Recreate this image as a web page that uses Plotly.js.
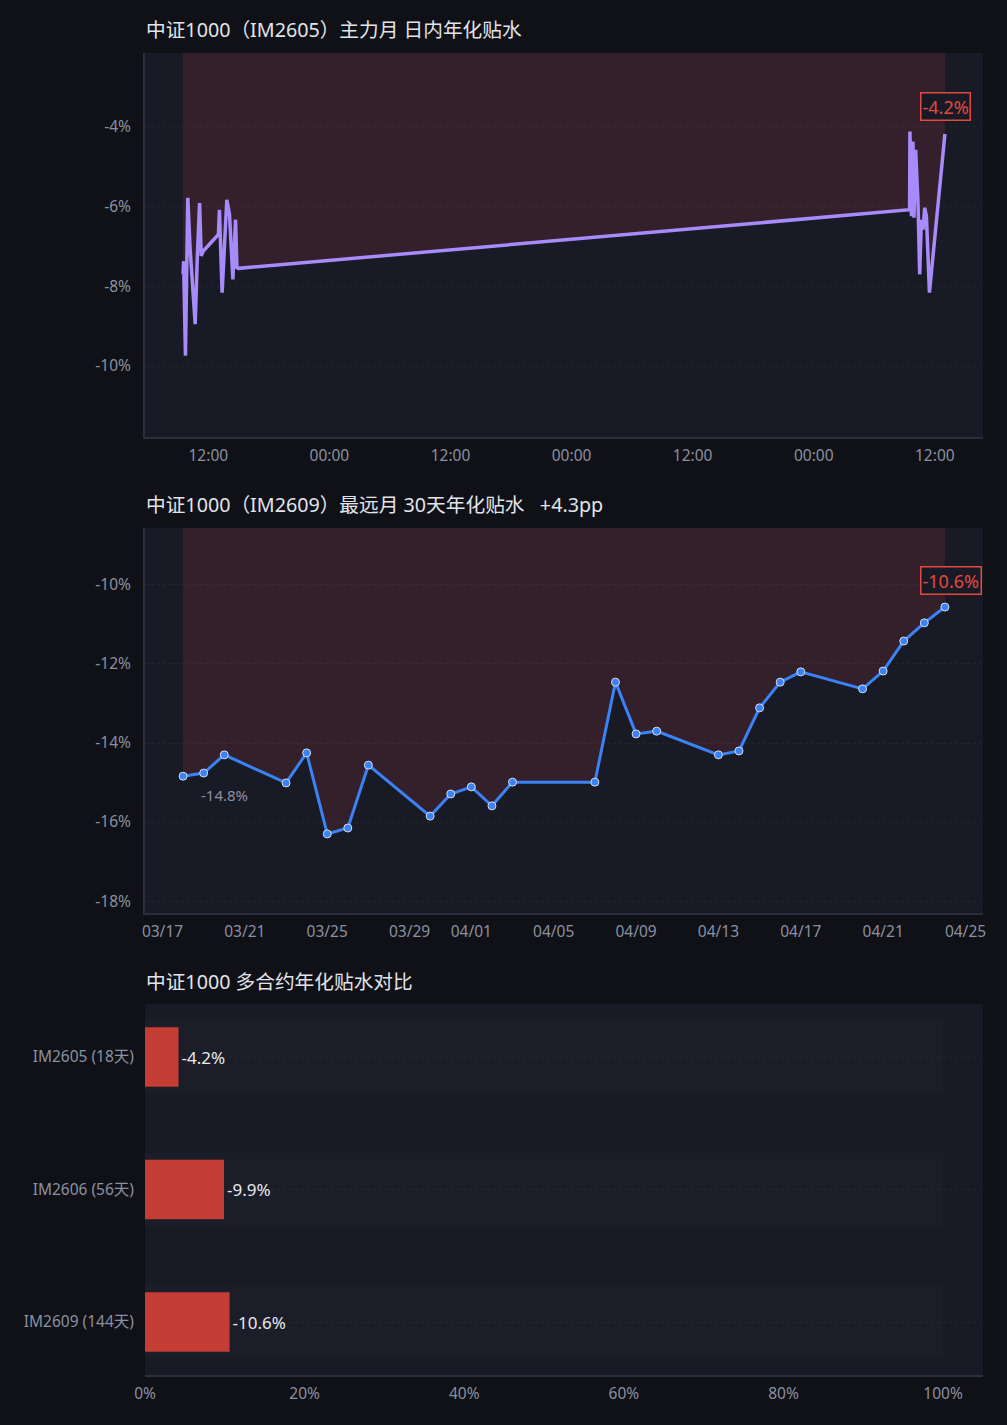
<!DOCTYPE html>
<html>
<head>
<meta charset="utf-8">
<script src="https://cdn.plot.ly/plotly-3.0.1.min.js"></script>
<style>
  html, body { margin: 0; padding: 0; background: #0f1117; }
  #plotter { width: 1007px; height: 1425px; }
</style>
</head>
<body>
<div id="plotter"></div>
<script>
// intraday annualised discount, main contract IM2605
var intradayTime = [
    '2026-04-21 09:30', '2026-04-21 09:33', '2026-04-21 09:44', '2026-04-21 09:58',
    '2026-04-21 10:12', '2026-04-21 10:24', '2026-04-21 10:42', '2026-04-21 10:54',
    '2026-04-21 11:08', '2026-04-21 11:18', '2026-04-21 11:29', '2026-04-21 13:00',
    '2026-04-21 13:06', '2026-04-21 13:22', '2026-04-21 13:36', '2026-04-21 13:50',
    '2026-04-21 14:06', '2026-04-21 14:16', '2026-04-21 14:26', '2026-04-21 14:42',
    '2026-04-21 14:50', '2026-04-21 15:00',
    '2026-04-24 09:30', '2026-04-24 09:32', '2026-04-24 09:41', '2026-04-24 09:50',
    '2026-04-24 09:56', '2026-04-24 10:06', '2026-04-24 10:14', '2026-04-24 10:20',
    '2026-04-24 10:30', '2026-04-24 10:40', '2026-04-24 10:50', '2026-04-24 11:00',
    '2026-04-24 11:10', '2026-04-24 11:28', '2026-04-24 13:00'
];
var intradayVal = [
    -7.70, -7.37, -9.74, -5.78,
    -7.08, -7.74, -8.95, -7.33,
    -5.91, -7.24, -7.12, -6.70,
    -6.08, -8.16, -7.08, -5.83,
    -6.20, -7.08, -7.83, -6.33,
    -7.53, -7.55,
    -6.08, -4.12, -6.24, -4.37,
    -6.28, -4.58, -5.15, -5.90,
    -7.70, -6.33, -6.58, -6.03,
    -6.24, -8.16, -4.18
];
var intradayTicks = [-4, -6, -8, -10];

// far month IM2609, last 30 days
var dailyDate = [
    '2026-03-18', '2026-03-19', '2026-03-20', '2026-03-23', '2026-03-24', '2026-03-25',
    '2026-03-26', '2026-03-27', '2026-03-30', '2026-03-31', '2026-04-01', '2026-04-02',
    '2026-04-03', '2026-04-07', '2026-04-08', '2026-04-09', '2026-04-10', '2026-04-13',
    '2026-04-14', '2026-04-15', '2026-04-16', '2026-04-17', '2026-04-20', '2026-04-21',
    '2026-04-22', '2026-04-23', '2026-04-24'
];
var dailyVal = [
    -14.84, -14.76, -14.30, -15.01, -14.25, -16.30,
    -16.15, -14.56, -15.85, -15.29, -15.11, -15.59,
    -14.99, -14.99, -12.46, -13.77, -13.70, -14.30,
    -14.20, -13.11, -12.46, -12.20, -12.63, -12.18,
    -11.42, -10.96, -10.56
];
var dailyTicks = [
    '2026-03-17', '2026-03-21', '2026-03-25', '2026-03-29', '2026-04-01', '2026-04-05',
    '2026-04-09', '2026-04-13', '2026-04-17', '2026-04-21', '2026-04-25'
];
var dailyValTicks = [-10, -12, -14, -16, -18];

// contract comparison
var contracts = ['IM2605 (18天)', 'IM2606 (56天)', 'IM2609 (144天)'];
var contractVal = [-4.2, -9.9, -10.6];
var pctTicks = [0, 20, 40, 60, 80, 100];

var BG = '#0f1117', PLOT_BG = '#181b26', GRID = 'rgba(255,255,255,0.05)';
var TICK = '#8b90a0', TITLE = '#e2e4ea', RED = '#e5483d';
var FONT = 'Noto Sans, Noto Sans CJK SC, sans-serif';

function padRange(dates) {
    var t0 = new Date(dates[0].replace(' ', 'T') + 'Z').getTime();
    var t1 = new Date(dates[dates.length - 1].replace(' ', 'T') + 'Z').getTime();
    var p = (t1 - t0) * 0.05;
    var f = (t) => new Date(t).toISOString().replace('T', ' ').slice(0, 19);
    return [f(t0 - p), f(t1 + p)];
}
var pct = (v) => v + '%';

var last1 = intradayVal[intradayVal.length - 1];
var last2 = dailyVal[dailyVal.length - 1];
var change = last2 - dailyVal[0];

var plots = [
    {
        x: intradayTime, y: intradayVal,
        type: 'scatter', mode: 'lines',
        line: { color: '#a78bfa', width: 3.5 },
        fill: 'tozeroy', fillcolor: 'rgba(239,68,68,0.13)',
        xaxis: 'x', yaxis: 'y', hoverinfo: 'skip'
    },
    {
        x: dailyDate, y: dailyVal,
        type: 'scatter', mode: 'lines+markers',
        line: { color: '#3b82f6', width: 3 },
        marker: { color: '#3b82f6', size: 8, line: { color: '#d6dcea', width: 1 } },
        fill: 'tozeroy', fillcolor: 'rgba(239,68,68,0.13)',
        xaxis: 'x2', yaxis: 'y2', hoverinfo: 'skip'
    },
    {
        x: contracts.map(() => 100), y: contracts,
        type: 'bar', orientation: 'h', width: 0.55,
        marker: { color: 'rgba(255,255,255,0.015)' },
        xaxis: 'x3', yaxis: 'y3', hoverinfo: 'skip'
    },
    {
        x: contractVal.map((v) => Math.abs(v)), y: contracts,
        type: 'bar', orientation: 'h', width: 0.45,
        marker: { color: '#c53d35' },
        text: contractVal.map((v) => v.toFixed(1) + '%'),
        textposition: 'outside', cliponaxis: false,
        textfont: { color: '#e8e8ec', size: 17, family: FONT },
        xaxis: 'x3', yaxis: 'y3', hoverinfo: 'skip'
    }
];

var axisBase = {
    showline: true, linecolor: '#2c303c', linewidth: 2,
    zeroline: false, ticks: '',
    tickfont: { color: TICK, size: 15.5, family: FONT }
};

function titleNote(text, y) {
    return {
        text: text, xref: 'paper', yref: 'paper', x: 0, y: y,
        xanchor: 'left', yanchor: 'middle', showarrow: false, xshift: -1,
        font: { color: TITLE, size: 19.7, family: FONT }
    };
}

function lastNote(x, y, xref, yref) {
    return {
        x: x, y: y, xref: xref, yref: yref,
        text: y.toFixed(1) + '%', showarrow: false,
        xanchor: 'left', yanchor: 'middle', xshift: -25, yshift: 27,
        bgcolor: PLOT_BG, bordercolor: RED, borderwidth: 1.5, borderpad: 1,
        font: { color: RED, size: 18, family: FONT }
    };
}

var layout = {
    width: 1007, height: 1425,
    paper_bgcolor: BG, plot_bgcolor: PLOT_BG,
    showlegend: false, barmode: 'overlay',
    margin: { l: 145, r: 24, t: 53, b: 50 },
    font: { family: FONT },
    xaxis: Object.assign({}, axisBase, {
        domain: [0, 1], anchor: 'y', type: 'date',
        range: padRange(intradayTime),
        tickformat: '%H:%M', dtick: 43200000, tick0: '2026-04-21 00:00',
        showgrid: false, ticklabelstandoff: 3
    }),
    yaxis: Object.assign({}, axisBase, {
        domain: [0.7095, 1], anchor: 'x',
        range: [-11.78, -2.15],
        tickvals: intradayTicks, ticktext: intradayTicks.map(pct),
        showgrid: true, gridcolor: GRID, griddash: 'dot', ticklabelstandoff: 9
    }),
    xaxis2: Object.assign({}, axisBase, {
        domain: [0, 1], anchor: 'y2', type: 'date',
        range: padRange(dailyDate),
        tickvals: dailyTicks, tickformat: '%m/%d',
        showgrid: false, ticklabelstandoff: 3
    }),
    yaxis2: Object.assign({}, axisBase, {
        domain: [0.3495, 0.6407], anchor: 'x2',
        range: [-18.3, -8.56],
        tickvals: dailyValTicks, ticktext: dailyValTicks.map(pct),
        showgrid: true, gridcolor: GRID, griddash: 'dot', ticklabelstandoff: 9
    }),
    xaxis3: Object.assign({}, axisBase, {
        domain: [0, 1], anchor: 'y3',
        range: [0, 105],
        tickvals: pctTicks, ticktext: pctTicks.map(pct),
        showgrid: false, ticklabelstandoff: 3
    }),
    yaxis3: Object.assign({}, axisBase, {
        domain: [0, 0.2806], anchor: 'x3',
        range: [2.4, -0.4], showline: false,
        showgrid: true, gridcolor: GRID, griddash: 'dot', ticklabelstandoff: 10
    }),
    annotations: [
        titleNote('中证1000（IM2605）主力月 日内年化贴水', 1.0174),
        titleNote('中证1000（IM2609）最远月 30天年化贴水\u00a0\u00a0\u00a0' + (change >= 0 ? '+' : '') + change.toFixed(1) + 'pp', 0.6581),
        titleNote('中证1000 多合约年化贴水对比', 0.298),
        lastNote(intradayTime[intradayTime.length - 1], last1, 'x', 'y'),
        lastNote(dailyDate[dailyDate.length - 1], last2, 'x2', 'y2'),
        {
            x: dailyDate[0], y: dailyVal[0], xref: 'x2', yref: 'y2',
            text: dailyVal[0].toFixed(1) + '%', showarrow: false,
            xshift: 41, yshift: -19,
            font: { color: TICK, size: 15, family: FONT }
        }
    ]
};

Plotly.newPlot('plotter', plots, layout, { staticPlot: true });
</script>
</body>
</html>
